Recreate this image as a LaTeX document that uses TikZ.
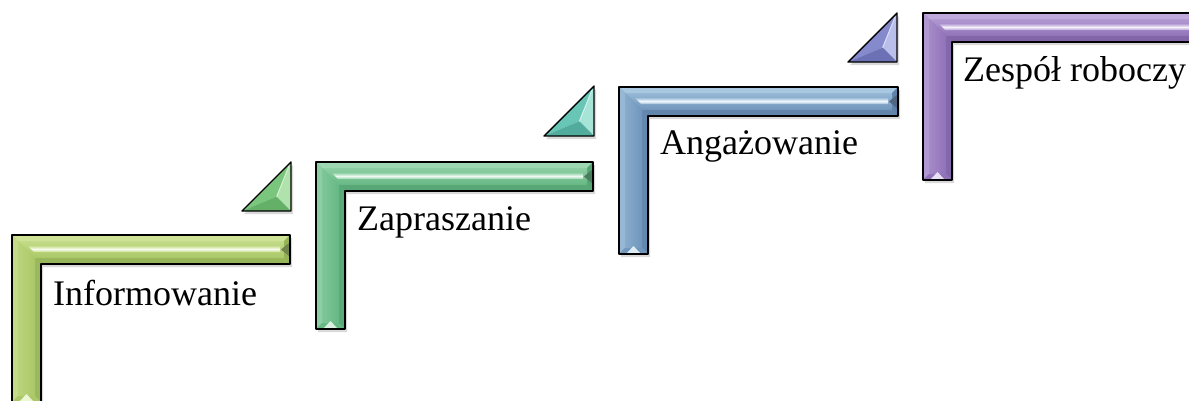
\documentclass[tikz,border=0pt]{standalone}
\usepackage{fontspec}
\setmainfont{Liberation Serif}
\definecolor{baseA}{RGB}{170,200,104}\definecolor{lightA}{RGB}{216,234,162}\definecolor{darkA}{RGB}{140,170,80}
\definecolor{baseB}{RGB}{102,184,132}\definecolor{lightB}{RGB}{172,224,190}\definecolor{darkB}{RGB}{78,156,108}
\definecolor{baseC}{RGB}{112,150,188}\definecolor{lightC}{RGB}{182,212,234}\definecolor{darkC}{RGB}{88,122,162}
\definecolor{baseD}{RGB}{144,114,184}\definecolor{lightD}{RGB}{204,184,230}\definecolor{darkD}{RGB}{118,92,158}
\definecolor{triA}{RGB}{122,198,124}\definecolor{triAl}{RGB}{176,226,172}\definecolor{triAd}{RGB}{100,176,104}
\definecolor{triB}{RGB}{104,198,182}\definecolor{triBl}{RGB}{166,228,216}\definecolor{triBd}{RGB}{82,172,158}
\definecolor{triC}{RGB}{132,138,204}\definecolor{triCl}{RGB}{186,190,234}\definecolor{triCd}{RGB}{108,112,180}
\tikzset{
  edge/.style={draw=black, line width=1.4pt, line join=round},
  shadowfill/.style={fill=black, opacity=0.15},
  labeltext/.style={anchor=base west, inner sep=0pt, font=\fontsize{36}{40}\selectfont, text=black}
}
% #1 x0, #2 y0, #3 W, #4 H, #5 base, #6 light, #7 dark
\newcommand\lbar[7]{%
  \fill[shadowfill] ({#1+2},{#2+3}) -- ({#1+#3+2},{#2+3}) -- ({#1+#3+2},{#2+32}) -- ({#1+31},{#2+32}) -- ({#1+31},{#2+#4+3}) -- ({#1+2},{#2+#4+3}) -- cycle;
  \fill[#5] (#1,#2) -- ({#1+#3},#2) -- ({#1+#3},{#2+29}) -- ({#1+29},{#2+29}) -- ({#1+29},{#2+#4}) -- (#1,{#2+#4}) -- cycle;
  % top bevel
  \fill[#6!80!#5] (#1,#2) -- ({#1+#3},#2) -- ({#1+#3-6},{#2+6}) -- ({#1+6},{#2+6}) -- cycle;
  % left bevel
  \fill[#6!55!#5] (#1,#2) -- ({#1+6},{#2+6}) -- ({#1+6},{#2+#4-6}) -- (#1,{#2+#4}) -- cycle;
  % inner bottom bevel of horizontal bar
  \fill[#7!60!#5] ({#1+#3},{#2+29}) -- ({#1+29},{#2+29}) -- ({#1+23},{#2+23}) -- ({#1+#3-6},{#2+23}) -- cycle;
  % right bevel of vertical bar
  \fill[#7!50!#5] ({#1+29},{#2+29}) -- ({#1+29},{#2+#4}) -- ({#1+23},{#2+#4-6}) -- ({#1+23},{#2+23}) -- cycle;
  % right end
  \fill[#7!70!#5] ({#1+#3},#2) -- ({#1+#3},{#2+29}) -- ({#1+#3-6},{#2+23}) -- ({#1+#3-6},{#2+6}) -- cycle;
  % bottom end
  \fill[#5] (#1,{#2+#4}) -- ({#1+29},{#2+#4}) -- ({#1+23},{#2+#4-6}) -- ({#1+6},{#2+#4-6}) -- cycle;
  % faces
  \shade[top color=#6!55!#5, bottom color=#5] ({#1+6},{#2+6}) -- ({#1+#3-6},{#2+6}) -- ({#1+#3-6},{#2+23}) -- ({#1+23},{#2+23}) -- cycle;
  \shade[left color=#6!35!#5, right color=#5] ({#1+6},{#2+6}) -- ({#1+23},{#2+23}) -- ({#1+23},{#2+#4-6}) -- ({#1+6},{#2+#4-6}) -- cycle;
  % highlight stripe
  \shade[top color=#6!70!#5, bottom color=#6!70!#5, middle color=white!80!#6] ({#1+16},{#2+11}) -- ({#1+#3-10},{#2+11}) -- ({#1+#3-10},{#2+17}) -- ({#1+22},{#2+17}) -- cycle;
  % end notches
  \fill[#7!70!black!90] ({#1+#3-1},{#2+8}) -- ({#1+#3-9},{#2+14.5}) -- ({#1+#3-1},{#2+21}) -- cycle;
  \fill[white!55!#6] ({#1+8},{#2+#4-1}) -- ({#1+14.5},{#2+#4-8}) -- ({#1+21},{#2+#4-1}) -- cycle;
  \draw[edge] (#1,#2) -- ({#1+#3},#2) -- ({#1+#3},{#2+29}) -- ({#1+29},{#2+29}) -- ({#1+29},{#2+#4}) -- (#1,{#2+#4}) -- cycle;
}
% #1 Ax, #2 Ay, #3 size, #4 base, #5 light, #6 dark
\newcommand\tribev[6]{%
  \fill[shadowfill] ({#1+2},{#2+3}) -- ({#1+#3+2},{#2+3}) -- ({#1+#3+2},{#2-#3+3}) -- cycle;
  \fill[#4] (#1,#2) -- ({#1+#3},{#2-#3}) -- ({#1+0.707*#3},{#2-0.293*#3}) -- cycle;
  \fill[#5] ({#1+#3},#2) -- ({#1+#3},{#2-#3}) -- ({#1+0.707*#3},{#2-0.293*#3}) -- cycle;
  \fill[#6] (#1,#2) -- ({#1+#3},#2) -- ({#1+0.707*#3},{#2-0.293*#3}) -- cycle;
  \draw[#5!50!white, line width=1pt] ({#1+0.707*#3},{#2-0.293*#3}) -- ({#1+#3-2},{#2-#3+4});
  \draw[edge] (#1,#2) -- ({#1+#3},#2) -- ({#1+#3},{#2-#3}) -- cycle;
}
\begin{document}
\begin{tikzpicture}[x=1pt,y=-1pt]
\useasboundingbox (0,0) rectangle (1189,400);
\clip (0,0) rectangle (1189,400);
\fill[white] (0,0) rectangle (1189,400);
\tribev{242}{211}{49}{triA}{triAl}{triAd}
\tribev{544}{136}{50}{triB}{triBl}{triBd}
\tribev{848}{62}{49}{triC}{triCl}{triCd}
\lbar{12}{235}{278}{167}{baseA}{lightA}{darkA}
\lbar{316}{162}{277}{167}{baseB}{lightB}{darkB}
\lbar{619}{87}{279}{167}{baseC}{lightC}{darkC}
\lbar{923}{13}{278}{167}{baseD}{lightD}{darkD}
\node[labeltext] (t1) at (53,305) {Informowanie};
\node[labeltext] (t2) at (357,230) {Zapraszanie};
\node[labeltext] (t3) at (660,154) {Angażowanie};
\node[labeltext] (t4) at (963,81) {Zespół roboczy};
\end{tikzpicture}
\end{document}
